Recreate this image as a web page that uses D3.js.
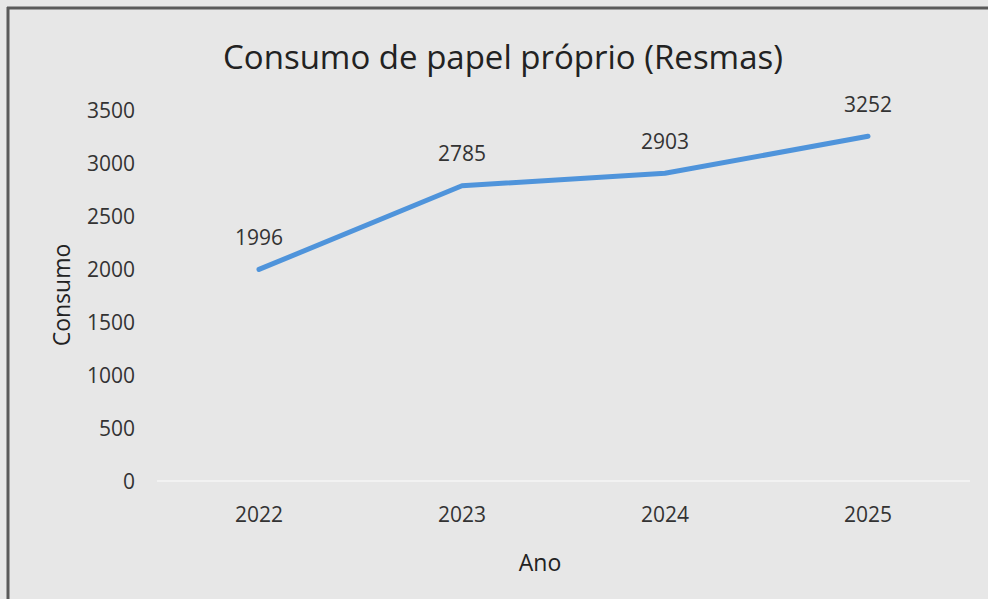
<!DOCTYPE html>
<html><head><meta charset="utf-8">
<script src="https://cdn.jsdelivr.net/npm/d3@7"></script>
<style>
html,body{margin:0;padding:0;background:#e7e7e7;}
svg{display:block;}
</style></head>
<body>
<script>
const categories = ["2022","2023","2024","2025"];
const consumo = [1996, 2785, 2903, 3252];
const yTicks = [0,500,1000,1500,2000,2500,3000,3500];
const title = "Consumo de papel próprio (Resmas)";
const xTitle = "Ano";
const yTitle = "Consumo";

const W = 988, H = 599;
const font = "'Open Sans', 'Noto Sans', sans-serif";
const svg = d3.select("body").append("svg").attr("width", W).attr("height", H);
svg.append("rect").attr("width", W).attr("height", H).attr("fill", "#e7e7e7");
// frame
svg.append("line").attr("x1", 7).attr("x2", W).attr("y1", 8).attr("y2", 8).attr("stroke", "#5a5a5a").attr("stroke-width", 3);
svg.append("line").attr("x1", 8).attr("x2", 8).attr("y1", 7).attr("y2", H).attr("stroke", "#5a5a5a").attr("stroke-width", 3);

const x = d3.scaleBand().domain(categories).range([157.5, 969.5]);
const y = d3.scaleLinear().domain([0, 3500]).range([481, 110]);

// baseline
svg.append("line").attr("x1", 157).attr("x2", 970).attr("y1", y(0)).attr("y2", y(0))
  .attr("stroke", "#f6f6f6").attr("stroke-width", 1.5);

const yAxis = d3.axisLeft(y).tickValues(yTicks).tickFormat(d3.format("d")).tickSize(0).tickPadding(0);
const gy = svg.append("g").attr("transform", "translate(135,0)").call(yAxis);
gy.select(".domain").remove();
gy.selectAll("text").attr("font-family", font).attr("font-size", 21).attr("fill", "#333").attr("dy", "0.35em");

const xAxis = d3.axisBottom(x).tickSize(0).tickPadding(0);
const gx = svg.append("g").attr("transform", `translate(0,${y(0)+34})`).call(xAxis);
gx.select(".domain").remove();
gx.selectAll("text").attr("font-family", font).attr("font-size", 21).attr("fill", "#333").attr("dy", "0.35em");

const line = d3.line().x((d,i)=>x(categories[i]) + x.bandwidth()/2).y(d=>y(d));
svg.append("path").datum(consumo).attr("d", line).attr("fill","none")
  .attr("stroke", "#4f94db").attr("stroke-width", 5).attr("stroke-linecap","round").attr("stroke-linejoin","round");

svg.selectAll(".lbl").data(consumo).enter().append("text")
  .attr("x", (d,i)=>x(categories[i]) + x.bandwidth()/2)
  .attr("y", d=>y(d) - 32).attr("dy","0.35em")
  .attr("text-anchor","middle").attr("font-family", font).attr("font-size", 21).attr("fill","#333")
  .text(d=>d);

svg.append("text").attr("x", 503).attr("y", 57).attr("dy","0.35em").attr("text-anchor","middle")
  .attr("font-family", font).attr("font-size", 33).attr("fill","#222").text(title);
svg.append("text").attr("x", 540).attr("y", 563).attr("dy","0.35em").attr("text-anchor","middle")
  .attr("font-family", font).attr("font-size", 23).attr("fill","#222").text(xTitle);
svg.append("text").attr("transform","translate(62,295) rotate(-90)").attr("dy","0.35em").attr("text-anchor","middle")
  .attr("font-family", font).attr("font-size", 23).attr("fill","#222").text(yTitle);
</script>
</body></html>
